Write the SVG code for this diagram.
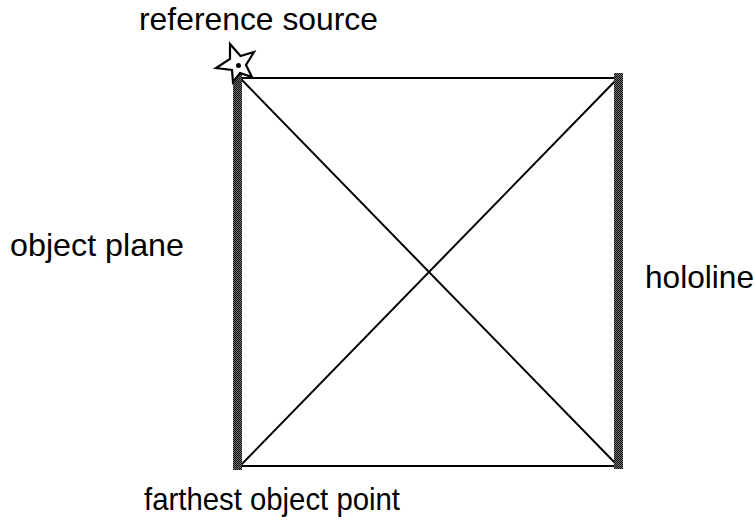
<svg xmlns="http://www.w3.org/2000/svg" width="756" height="525" viewBox="0 0 756 525">
<defs>
<pattern id="stip" width="2" height="2" patternUnits="userSpaceOnUse">
<rect width="2" height="2" fill="#6e6e6e"/>
<rect width="1" height="1" fill="#111"/>
<rect x="1" y="1" width="1" height="1" fill="#111"/>
</pattern>
</defs>
<style>
.lbl{font-family:"Liberation Sans",Arial,sans-serif;font-size:32px;fill:#000}
.ln{stroke:#000;stroke-width:2;fill:none}
.bar{fill:url(#stip)}
</style>
<rect width="756" height="525" fill="#fff"/>
<g id="connectors">
<line class="ln" x1="238" y1="78" x2="618" y2="78"/>
<line class="ln" x1="238" y1="466" x2="618" y2="466"/>
<line class="ln" x1="240" y1="78" x2="618" y2="466"/>
<line class="ln" x1="618" y1="78" x2="240" y2="466"/>
</g>
<g id="object-plane">
<rect class="bar" x="233" y="73" width="9" height="397"/>
<text class="lbl" x="10" y="256" textLength="174" lengthAdjust="spacingAndGlyphs">object plane</text>
</g>
<g id="hololine">
<rect class="bar" x="614" y="73" width="9" height="396"/>
<text class="lbl" x="645" y="288" textLength="109" lengthAdjust="spacingAndGlyphs">hololine</text>
</g>
<g id="reference-source">
<polygon points="230,44 240.5,56 254,52 246,65 252,77 240,73 233,82 232,70 216,68 230,59" fill="#fff" stroke="#000" stroke-width="2.2" stroke-linejoin="miter"/>
<circle cx="238.5" cy="65.5" r="2.5" fill="#000"/>
<text class="lbl" x="139" y="30" textLength="239" lengthAdjust="spacingAndGlyphs">reference source</text>
</g>
<g id="farthest-object-point">
<text class="lbl" x="144" y="510" textLength="256" lengthAdjust="spacingAndGlyphs">farthest object point</text>
</g>
</svg>
